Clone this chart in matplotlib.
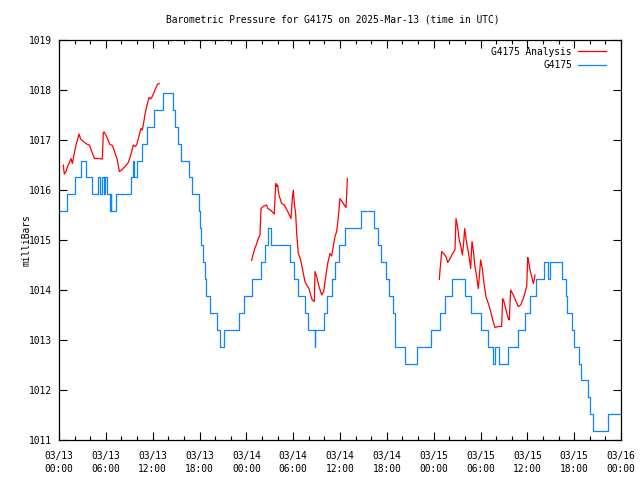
import numpy as np
import matplotlib
matplotlib.use("Agg")
import matplotlib.pyplot as plt

# station G4175 pressure (mbar), hours since 2025-03-13 00:00 UTC; stepped values
obs_hours = [0.0, 1.07, 2.1, 2.78, 3.46, 4.27, 5.04, 5.3, 5.5, 5.75, 5.95, 6.2, 6.5, 6.6,
             6.7, 7.26, 9.2, 9.5, 9.6, 9.95, 10.67, 11.3, 12.2, 13.3, 14.65, 14.9, 15.2,
             15.6, 16.6, 17.0, 17.9, 18.1, 18.25, 18.5, 18.65, 18.8, 19.4, 20.2, 20.6,
             21.2, 23.1, 23.7, 24.7, 25.9, 26.4, 26.8, 27.2, 29.6, 30.1, 30.6, 31.5,
             31.85, 32.75, 32.85, 34.0, 34.3, 35.0, 35.4, 35.9, 36.7, 38.7, 40.4, 40.9,
             41.3, 41.9, 42.3, 42.8, 43.05, 44.3, 45.9, 47.6, 48.8, 49.5, 50.4, 52.0,
             52.8, 54.1, 55.0, 55.6, 55.8, 56.4, 57.5, 58.8, 59.7, 60.4, 61.1, 62.1,
             62.7, 62.9, 64.4, 64.9, 65.1, 65.7, 66.0, 66.6, 66.9, 67.8, 68.0, 68.4,
             70.3, 72.0]
obs_mbar = [1015.58, 1015.92, 1016.26, 1016.59, 1016.26, 1015.92, 1016.26, 1015.92,
            1016.26, 1015.92, 1016.26, 1015.92, 1015.58, 1015.92, 1015.58, 1015.92,
            1016.26, 1016.59, 1016.26, 1016.59, 1016.93, 1017.27, 1017.61, 1017.95,
            1017.61, 1017.27, 1016.93, 1016.59, 1016.26, 1015.92, 1015.58, 1015.24,
            1014.90, 1014.56, 1014.22, 1013.89, 1013.55, 1013.21, 1012.87, 1013.21,
            1013.55, 1013.89, 1014.22, 1014.56, 1014.90, 1015.24, 1014.90, 1014.56,
            1014.22, 1013.89, 1013.55, 1013.21, 1012.87, 1013.21, 1013.55, 1013.89,
            1014.22, 1014.56, 1014.90, 1015.24, 1015.58, 1015.24, 1014.90, 1014.56,
            1014.22, 1013.89, 1013.55, 1012.87, 1012.53, 1012.87, 1013.21, 1013.55,
            1013.89, 1014.22, 1013.89, 1013.55, 1013.21, 1012.87, 1012.53, 1012.87,
            1012.53, 1012.87, 1013.21, 1013.55, 1013.89, 1014.22, 1014.56, 1014.22,
            1014.56, 1014.22, 1013.89, 1013.55, 1013.21, 1012.87, 1012.53, 1012.20,
            1011.86, 1011.52, 1011.18, 1011.52, 1011.52]

# analysis, three runs
ana1_hours = [0.55, 0.68, 0.9, 1.1, 1.33, 1.54, 1.71, 1.92, 2.13, 2.35, 2.56, 2.77, 3.12,
              3.54, 3.89, 4.18, 4.53, 5.04, 5.55, 5.68, 5.8, 6.1, 6.53, 6.84, 7.17, 7.47,
              7.73, 8.03, 8.46, 8.88, 9.14, 9.52, 9.74, 9.95, 10.16, 10.5, 10.67, 10.8,
              11.0, 11.23, 11.53, 11.74, 11.95, 12.3, 12.6, 12.85]
ana1_mbar = [1016.5, 1016.32, 1016.37, 1016.47, 1016.55, 1016.63, 1016.53, 1016.7, 1016.87,
             1017.0, 1017.12, 1017.02, 1016.97, 1016.92, 1016.9, 1016.78, 1016.63, 1016.63,
             1016.62, 1017.15, 1017.16, 1017.07, 1016.91, 1016.89, 1016.75, 1016.6,
             1016.37, 1016.4, 1016.47, 1016.55, 1016.67, 1016.9, 1016.87, 1016.9, 1017.03,
             1017.23, 1017.2, 1017.3, 1017.5, 1017.67, 1017.85, 1017.82, 1017.87, 1018.0,
             1018.11, 1018.13]
ana2_hours = [24.68, 24.77, 25.02, 25.33, 25.54, 25.75, 25.88, 26.17, 26.6, 26.74, 27.16,
              27.58, 27.67, 27.76, 27.89, 28.01, 28.18, 28.52, 28.86, 29.3, 29.72, 29.89,
              30.02, 30.15, 30.32, 30.45, 30.66, 30.87, 31.09, 31.3, 31.51, 31.73, 32.03,
              32.24, 32.45, 32.71, 32.8, 33.01, 33.31, 33.65, 33.91, 34.17, 34.42, 34.72,
              34.93, 35.14, 35.36, 35.57, 35.7, 35.87, 36.0, 36.42, 36.77, 36.86, 36.94]
ana2_mbar = [1014.59, 1014.65, 1014.8, 1014.93, 1015.03, 1015.1, 1015.63, 1015.67, 1015.7,
             1015.63, 1015.59, 1015.52, 1015.81, 1016.13, 1016.07, 1016.1, 1015.9, 1015.73,
             1015.7, 1015.57, 1015.43, 1015.83, 1016.0, 1015.73, 1015.53, 1015.13, 1014.73,
             1014.65, 1014.5, 1014.33, 1014.17, 1014.1, 1014.03, 1013.9, 1013.8, 1013.77,
             1014.37, 1014.27, 1014.07, 1013.9, 1013.97, 1014.27, 1014.53, 1014.73, 1014.68,
             1014.87, 1015.07, 1015.17, 1015.33, 1015.6, 1015.83, 1015.73, 1015.65,
             1015.93, 1016.23]
ana3_hours = [48.72, 48.8, 49.03, 49.32, 49.58, 49.8, 50.1, 50.43, 50.73, 50.86, 51.03,
              51.28, 51.5, 51.67, 51.8, 51.98, 52.14, 52.36, 52.57, 52.74, 52.91, 53.08,
              53.29, 53.51, 53.72, 54.02, 54.23, 54.45, 54.7, 55.0, 55.31, 55.56, 55.85,
              56.28, 56.71, 56.84, 57.01, 57.26, 57.56, 57.69, 57.86, 58.2, 58.55, 58.84,
              59.15, 59.49, 59.79, 59.92, 60.05, 60.17, 60.34, 60.56, 60.76, 60.89, 60.98]
ana3_mbar = [1014.21, 1014.37, 1014.77, 1014.72, 1014.67, 1014.55, 1014.63, 1014.73,
             1014.8, 1015.43, 1015.3, 1015.0, 1014.87, 1014.7, 1014.87, 1015.23, 1015.03,
             1014.83, 1014.63, 1014.43, 1014.97, 1014.8, 1014.47, 1014.27, 1014.03, 1014.6,
             1014.43, 1014.13, 1013.87, 1013.73, 1013.57, 1013.4, 1013.25, 1013.27,
             1013.27, 1013.83, 1013.77, 1013.6, 1013.43, 1013.4, 1014.0, 1013.9, 1013.77,
             1013.67, 1013.7, 1013.83, 1014.0, 1014.07, 1014.65, 1014.57, 1014.4, 1014.27,
             1014.13, 1014.2, 1014.3]

tick_hours = [0, 6, 12, 18, 24, 30, 36, 42, 48, 54, 60, 66, 72]
tick_labels = ["03/13\n00:00", "03/13\n06:00", "03/13\n12:00", "03/13\n18:00",
               "03/14\n00:00", "03/14\n06:00", "03/14\n12:00", "03/14\n18:00",
               "03/15\n00:00", "03/15\n06:00", "03/15\n12:00", "03/15\n18:00",
               "03/16\n00:00"]

plt.rcParams['font.family'] = ['DejaVu Sans Mono']
plt.rcParams['font.size'] = 6.9

fig = plt.figure(figsize=(6.4, 4.8), dpi=100)
ax = fig.add_axes([59/640, 40/480, 562/640, 400/480])

# join the analysis runs with gaps
ana_h = ana1_hours + [np.nan] + ana2_hours + [np.nan] + ana3_hours
ana_v = ana1_mbar + [np.nan] + ana2_mbar + [np.nan] + ana3_mbar
ax.plot(ana_h, ana_v, color='#ff0000', lw=0.9, label='G4175 Analysis')
ax.plot(obs_hours, obs_mbar, color='#0a84ff', lw=0.9, drawstyle='steps-post', label='G4175')

ax.set_xlim(0, 72)
ax.set_ylim(1011, 1019)
ax.set_xticks(tick_hours)
ax.set_xticklabels(tick_labels, linespacing=1.35)
ax.set_xticks(np.arange(0, 73, 2), minor=True)
ax.set_yticks(range(1011, 1020))
ax.tick_params(direction='in', top=True, right=True, length=6, width=0.8, pad=5)
ax.tick_params(which='minor', direction='in', top=True, length=3, width=0.8)
ax.tick_params(axis='x', pad=8)
for s in ax.spines.values():
    s.set_linewidth(0.9)

ax.set_ylabel('milliBars')
ax.yaxis.set_label_coords(-(59 - 31) / 562, 0.5)
fig.text(333/640, 1 - 19/480, 'Barometric Pressure for G4175 on 2025-Mar-13 (time in UTC)',
         ha='center', va='center')

ax.legend(loc='upper right', frameon=False, markerfirst=False, handlelength=3.0,
          handletextpad=0.6, labelspacing=0.35, borderaxespad=0.3,
          bbox_to_anchor=(1 - 8/562, 1))

fig.savefig('out.png', dpi=100)
